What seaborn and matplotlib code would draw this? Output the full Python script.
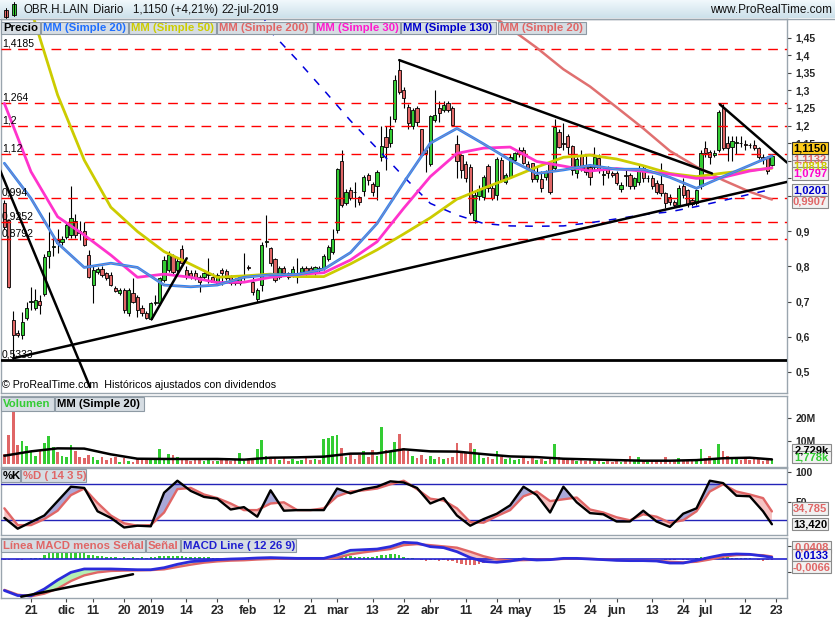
import numpy as np
import matplotlib
matplotlib.use("Agg")
import matplotlib.pyplot as plt
from matplotlib.patches import Rectangle
from matplotlib.colors import LinearSegmentedColormap
import seaborn as sns

sns.set_style("white")
plt.rcParams["font.family"] = ["Liberation Sans", "DejaVu Sans"]

W, H = 835, 620
GREEN = "#33cc33"
RED = "#e06666"
FRAME = "#9aa5ae"

# ---------------- data (bar 0 = 21-nov-2018, bar 167 = 22-jul-2019) ----------------
first_bar = -6

opens = [
    0.981, 0.932, 0.648, 0.612, 0.604, 0.652, 0.699, 0.681, 0.702, 0.721,
    0.830, 0.854, 0.875, 0.869, 0.884, 0.889, 0.929, 0.900, 0.901, 0.832,
    0.747, 0.785, 0.792, 0.780, 0.776, 0.740, 0.723, 0.733, 0.668, 0.725,
    0.714, 0.681, 0.667, 0.651, 0.695, 0.696, 0.762, 0.790, 0.830, 0.790,
    0.849, 0.790, 0.780, 0.780, 0.771, 0.769, 0.775, 0.771, 0.752, 0.790,
    0.788, 0.769, 0.763, 0.752, 0.770, 0.799, 0.757, 0.707, 0.747, 0.870,
    0.851, 0.820, 0.771, 0.795, 0.780, 0.776, 0.780, 0.785, 0.795, 0.795,
    0.780, 0.795, 0.795, 0.820, 0.842, 0.903, 1.098, 0.980, 1.017, 1.011,
    0.998, 1.015, 1.060, 1.034, 1.027, 1.112, 1.168, 1.151, 1.218, 1.358,
    1.301, 1.254, 1.200, 1.249, 1.189, 1.131, 1.091, 1.216, 1.249, 1.244,
    1.263, 1.249, 1.148, 1.116, 1.090, 1.083, 0.932, 1.000, 0.998, 1.086,
    1.022, 1.003, 1.102, 1.040, 1.055, 1.102, 1.120, 1.131, 1.090, 1.093,
    1.047, 1.047, 1.055, 1.093, 1.079, 1.183, 1.150, 1.169, 1.142, 1.064,
    1.116, 1.088, 1.083, 1.083, 1.107, 1.060, 1.079, 1.066, 1.064, 1.019,
    1.058, 1.060, 1.027, 1.040, 1.079, 1.050, 1.050, 1.038, 1.033, 1.008,
    0.998, 0.984, 0.974, 1.027, 1.017, 0.990, 0.979, 1.027, 1.135, 1.126,
    1.116, 1.131, 1.249, 1.150, 1.140, 1.151, 1.151, 1.147, 1.145, 1.145,
    1.135, 1.110, 1.112, 1.088,
]
highs = [
    0.990, 0.935, 0.672, 0.620, 0.670, 0.700, 0.742, 0.735, 0.720, 0.835,
    0.955, 0.885, 0.905, 0.885, 0.925, 1.029, 0.950, 0.929, 0.927, 0.847,
    0.800, 0.798, 0.800, 0.785, 0.785, 0.745, 0.738, 0.740, 0.738, 0.766,
    0.720, 0.690, 0.672, 0.700, 0.720, 0.770, 0.830, 0.845, 0.835, 0.825,
    0.860, 0.800, 0.790, 0.790, 0.775, 0.785, 0.823, 0.780, 0.780, 0.795,
    0.792, 0.775, 0.768, 0.775, 0.837, 0.805, 0.770, 0.740, 0.870, 0.946,
    0.855, 0.825, 0.800, 0.800, 0.785, 0.800, 0.823, 0.800, 0.800, 0.800,
    0.802, 0.800, 0.835, 0.860, 0.905, 1.080, 1.130, 1.020, 1.025, 1.040,
    1.000, 1.060, 1.065, 1.040, 1.075, 1.200, 1.200, 1.227, 1.345, 1.386,
    1.310, 1.260, 1.250, 1.255, 1.190, 1.135, 1.230, 1.300, 1.270, 1.270,
    1.270, 1.255, 1.173, 1.120, 1.100, 1.090, 1.010, 1.030, 1.060, 1.090,
    1.030, 1.110, 1.110, 1.065, 1.120, 1.125, 1.140, 1.140, 1.100, 1.095,
    1.083, 1.070, 1.075, 1.100, 1.218, 1.190, 1.206, 1.175, 1.145, 1.110,
    1.130, 1.120, 1.090, 1.140, 1.120, 1.080, 1.085, 1.070, 1.070, 1.040,
    1.074, 1.065, 1.055, 1.090, 1.085, 1.060, 1.060, 1.045, 1.093, 1.012,
    1.005, 0.990, 1.030, 1.050, 1.020, 0.995, 1.020, 1.130, 1.155, 1.130,
    1.130, 1.245, 1.260, 1.170, 1.170, 1.170, 1.170, 1.160, 1.150, 1.160,
    1.140, 1.120, 1.115, 1.120,
]
lows = [
    0.905, 0.738, 0.533, 0.598, 0.595, 0.648, 0.676, 0.675, 0.665, 0.715,
    0.795, 0.830, 0.838, 0.862, 0.878, 0.880, 0.880, 0.875, 0.858, 0.766,
    0.695, 0.778, 0.770, 0.760, 0.743, 0.727, 0.720, 0.668, 0.660, 0.695,
    0.655, 0.660, 0.650, 0.648, 0.690, 0.690, 0.755, 0.785, 0.775, 0.785,
    0.800, 0.765, 0.765, 0.760, 0.728, 0.765, 0.752, 0.755, 0.748, 0.747,
    0.760, 0.748, 0.748, 0.748, 0.760, 0.790, 0.720, 0.700, 0.730, 0.856,
    0.800, 0.755, 0.765, 0.775, 0.765, 0.770, 0.752, 0.780, 0.775, 0.780,
    0.775, 0.780, 0.790, 0.815, 0.835, 0.894, 0.970, 0.975, 0.990, 0.970,
    0.975, 1.000, 1.030, 1.000, 0.990, 1.100, 1.074, 1.140, 1.210, 1.290,
    1.250, 1.190, 1.190, 1.200, 1.110, 1.069, 1.085, 1.210, 1.210, 1.240,
    1.240, 1.200, 1.050, 1.050, 1.040, 0.945, 0.922, 0.990, 0.990, 1.010,
    0.990, 0.990, 1.040, 1.035, 1.050, 1.095, 1.110, 1.090, 1.075, 1.040,
    1.040, 1.010, 1.045, 1.005, 1.075, 1.135, 1.130, 1.120, 1.060, 1.050,
    1.070, 1.060, 1.030, 1.075, 1.065, 1.030, 1.050, 1.055, 1.030, 1.012,
    1.027, 1.020, 1.020, 1.030, 1.040, 1.040, 1.020, 1.005, 1.000, 0.965,
    0.975, 0.970, 0.970, 0.995, 0.970, 0.972, 0.975, 1.020, 1.110, 1.090,
    1.110, 1.125, 1.130, 1.100, 1.100, 1.120, 1.140, 1.130, 1.135, 1.130,
    1.105, 1.090, 1.062, 1.085,
]
closes = [
    0.913, 0.742, 0.605, 0.604, 0.642, 0.683, 0.701, 0.705, 0.689, 0.827,
    0.845, 0.857, 0.867, 0.878, 0.917, 0.938, 0.889, 0.895, 0.861, 0.769,
    0.790, 0.792, 0.776, 0.766, 0.747, 0.731, 0.733, 0.676, 0.733, 0.700,
    0.676, 0.667, 0.652, 0.695, 0.700, 0.766, 0.818, 0.832, 0.785, 0.815,
    0.810, 0.771, 0.769, 0.766, 0.757, 0.780, 0.778, 0.757, 0.776, 0.780,
    0.766, 0.752, 0.752, 0.771, 0.772, 0.794, 0.728, 0.733, 0.861, 0.871,
    0.809, 0.761, 0.795, 0.780, 0.771, 0.792, 0.781, 0.795, 0.780, 0.785,
    0.797, 0.793, 0.830, 0.856, 0.877, 1.076, 0.974, 1.012, 0.993, 1.010,
    0.984, 1.053, 1.045, 1.012, 1.069, 1.143, 1.140, 1.189, 1.330, 1.296,
    1.278, 1.206, 1.244, 1.211, 1.116, 1.121, 1.227, 1.230, 1.235, 1.258,
    1.244, 1.202, 1.098, 1.074, 1.050, 0.951, 1.003, 1.020, 1.053, 1.022,
    0.993, 1.104, 1.045, 1.060, 1.112, 1.121, 1.130, 1.093, 1.080, 1.047,
    1.060, 1.022, 1.069, 1.012, 1.197, 1.140, 1.148, 1.140, 1.074, 1.104,
    1.079, 1.069, 1.055, 1.112, 1.074, 1.061, 1.064, 1.060, 1.038, 1.031,
    1.057, 1.027, 1.050, 1.079, 1.050, 1.052, 1.027, 1.012, 1.008, 0.979,
    0.984, 0.974, 1.024, 1.003, 0.977, 0.977, 1.017, 1.123, 1.121, 1.112,
    1.121, 1.240, 1.135, 1.135, 1.157, 1.152, 1.150, 1.146, 1.144, 1.135,
    1.112, 1.105, 1.070, 1.115,
]
volume_m = [
    4.3, 12.6, 23.0, 8.3, 10.0, 7.8, 5.8, 3.5, 6.0, 9.0,
    12.2, 7.5, 5.4, 3.5, 3.2, 8.3, 5.8, 3.2, 2.5, 3.9,
    3.2, 1.8, 3.2, 1.8, 2.5, 3.2, 1.0, 2.5, 1.5, 1.0,
    2.5, 2.0, 1.7, 2.0, 2.2, 6.4, 2.5, 4.3, 3.8, 3.2,
    2.0, 2.0, 1.5, 1.6, 2.0, 1.2, 1.8, 1.5, 1.3, 2.2,
    1.6, 1.4, 1.8, 4.9, 1.5, 1.7, 2.7, 6.4, 10.4, 3.6,
    2.0, 3.0, 1.8, 2.5, 1.5, 2.2, 1.5, 1.8, 2.6, 1.6,
    2.0, 1.6, 11.0, 11.5, 12.2, 12.5, 7.0, 3.0, 4.0, 2.0,
    4.0, 5.5, 3.0, 6.0, 3.5, 16.0, 6.0, 5.8, 9.5, 13.0,
    7.0, 5.5, 3.5, 2.5, 4.0, 2.0, 3.5, 2.0, 3.0, 2.0,
    2.5, 3.0, 9.3, 5.0, 5.0, 9.3, 6.5, 5.0, 2.5, 3.0,
    2.0, 5.5, 3.0, 2.0, 2.5, 1.8, 2.2, 3.0, 1.5, 2.5,
    1.8, 2.0, 1.5, 2.5, 8.6, 3.0, 2.2, 2.5, 2.6, 1.5,
    2.0, 1.2, 2.0, 1.5, 1.8, 1.0, 1.3, 0.9, 1.2, 1.0,
    1.5, 3.5, 1.5, 3.0, 1.4, 1.0, 1.5, 1.1, 1.6, 3.0,
    1.5, 1.4, 2.5, 1.5, 1.8, 1.2, 1.5, 6.4, 2.5, 3.5,
    2.0, 8.8, 5.8, 3.5, 2.0, 2.5, 1.8, 2.0, 1.6, 2.4,
    2.2, 1.5, 2.0, 1.8,
]
macd_hist = [
    -0.008, -0.004, -0.002, -0.010, -0.008, 0.002, 0.005, 0.008, 0.010, 0.030,
    0.045, 0.050, 0.053, 0.053, 0.053, 0.053, 0.050, 0.048, 0.045, 0.035,
    0.030, 0.025, 0.021, 0.013, 0.012, 0.012, 0.011, 0.012, 0.011, 0.012,
    0.011, 0.012, 0.011, 0.013, 0.016, 0.021, 0.024, 0.026, 0.025, 0.022,
    0.020, 0.016, 0.015, 0.014, 0.013, 0.013, 0.012, 0.011, 0.010, 0.010,
    0.009, 0.009, 0.008, 0.008, 0.008, 0.007, 0.005, 0.004, 0.004, 0.003,
    0.003, 0.002, 0.002, 0.003, 0.002, 0.002, 0.001, 0.002, 0.002, 0.001,
    0.001, 0.002, 0.002, 0.003, 0.013, 0.024, 0.030, 0.026, 0.022, 0.018,
    0.016, 0.018, 0.016, 0.015, 0.020, 0.030, 0.035, 0.040, 0.038, 0.030,
    0.018, 0.010, 0.005, 0.003, -0.008, -0.012, -0.010, -0.009, -0.012, -0.010,
    -0.012, -0.018, -0.030, -0.038, -0.044, -0.048, -0.045, -0.040, -0.030, -0.022,
    -0.014, -0.006, -0.003, -0.002, 0.002, 0.003, 0.004, 0.003, 0.002, 0.001,
    0.000, -0.001, 0.001, 0.002, 0.003, 0.003, 0.002, 0.001, 0.001, 0.002,
    0.001, 0.000, -0.001, 0.000, -0.001, -0.002, -0.002, -0.001, -0.002, -0.003,
    -0.002, -0.002, -0.001, -0.001, -0.002, -0.002, -0.003, -0.002, -0.003, -0.004,
    -0.004, -0.005, -0.003, -0.004, -0.005, -0.003, 0.004, 0.012, 0.016, 0.018,
    0.019, 0.020, 0.018, 0.014, 0.010, 0.008, 0.007, 0.006, 0.005, 0.002,
    -0.010, -0.012, -0.009, -0.007,
]

# moving averages read every 6 bars
ma_idx = list(range(-6, 163, 6)) + [167]
sma20 = [1.093, 0.993, 0.866, 0.797, 0.809, 0.797, 0.747, 0.742, 0.747, 0.769,
         0.776, 0.777, 0.792, 0.839, 0.922, 1.038, 1.150, 1.192, 1.148, 1.102,
         1.064, 1.074, 1.087, 1.076, 1.076, 1.053, 1.022, 1.055, 1.087, 1.114]
sma30 = [1.263, 1.069, 0.941, 0.889, 0.832, 0.769, 0.778, 0.769, 0.754, 0.755,
         0.769, 0.777, 0.782, 0.818, 0.870, 0.965, 1.055, 1.121, 1.136, 1.139,
         1.098, 1.085, 1.071, 1.078, 1.070, 1.062, 1.050, 1.053, 1.071, 1.080]
sma50 = [1.720, 1.530, 1.287, 1.102, 0.968, 0.899, 0.842, 0.806, 0.769, 0.773,
         0.778, 0.771, 0.771, 0.807, 0.847, 0.892, 0.938, 0.991, 1.022, 1.051,
         1.082, 1.110, 1.116, 1.105, 1.086, 1.064, 1.055, 1.065, 1.073, 1.079]
vol_ma = [3.6, 5.5, 6.8, 6.7, 4.2, 2.3, 2.2, 2.2, 2.2, 1.9,
          2.75, 2.9, 3.2, 4.5, 4.6, 6.4, 5.5, 5.4, 4.3, 3.3,
          3.0, 2.3, 2.0, 1.7, 1.45, 1.45, 1.7, 2.5, 2.75, 2.0]
sma130_idx = list(range(48, 163, 6)) + [167]
sma130 = [1.620, 1.467, 1.386, 1.301, 1.214, 1.135, 1.055, 0.979, 0.946, 0.922,
          0.915, 0.914, 0.915, 0.924, 0.935, 0.947, 0.955, 0.970, 0.987, 1.005, 1.019]
sma200_idx = list(range(102, 163, 6)) + [167]
sma200 = [1.530, 1.476, 1.421, 1.360, 1.311, 1.252, 1.192, 1.128, 1.083, 1.045, 1.012, 0.990]

# oscillators read every 3 bars
osc_idx = list(range(-6, 166, 3)) + [167]
stoch_k = [24, 6, 17, 28, 52, 76, 74, 35, 24, 8, 11, 10, 66, 86, 69, 59, 56, 38, 42, 26,
           70, 36, 37, 37, 37, 73, 65, 72, 76, 85, 83, 74, 48, 57, 28, 11, 22, 31, 45, 76,
           62, 33, 76, 50, 32, 30, 18, 18, 36, 18, 9, 31, 40, 86, 82, 61, 60, 35, 13.4]
stoch_d = [40, 12, 12, 22, 36, 62, 73, 49, 28, 15, 11, 12, 33, 72, 74, 63, 57, 48, 37, 37,
           48, 50, 37, 37, 40, 60, 68, 70, 73, 80, 86, 72, 56, 53, 40, 17, 16, 27, 37, 60,
           68, 52, 55, 58, 38, 33, 25, 20, 30, 26, 16, 20, 35, 68, 80, 68, 63, 57, 34.8]
macd_line = [-0.250, -0.290, -0.292, -0.238, -0.167, -0.106, -0.079, -0.079, -0.079, -0.082,
             -0.085, -0.085, -0.069, -0.042, -0.021, -0.013, -0.005, 0.000, 0.003, 0.008,
             0.011, 0.008, 0.005, 0.005, 0.005, 0.032, 0.069, 0.074, 0.079, 0.098,
             0.132, 0.127, 0.098, 0.090, 0.058, 0.011, -0.019, -0.026, -0.016, 0.000,
             -0.008, -0.005, 0.005, 0.005, 0.000, -0.005, -0.011, -0.013, -0.013, -0.016,
             -0.032, -0.032, -0.011, 0.013, 0.034, 0.040, 0.037, 0.024, 0.013]
macd_signal = [-0.245, -0.283, -0.296, -0.275, -0.235, -0.175, -0.130, -0.106, -0.095, -0.092,
               -0.090, -0.088, -0.082, -0.063, -0.045, -0.029, -0.019, -0.013, -0.010, -0.004,
               0.000, 0.003, 0.003, 0.003, 0.003, 0.010, 0.037, 0.053, 0.066, 0.079,
               0.110, 0.118, 0.110, 0.100, 0.090, 0.058, 0.022, -0.003, -0.011, -0.009,
               -0.006, -0.004, 0.001, 0.003, 0.001, -0.003, -0.008, -0.011, -0.012, -0.014,
               -0.022, -0.027, -0.022, -0.004, 0.018, 0.031, 0.034, 0.030, 0.020]

# drawn levels and trend lines (bar, price)
levels = [1.4185, 1.264, 1.2, 1.12, 0.994, 0.9252, 0.8792]
level_text = ["1,4185", "1,264", "1,2", "1,12", "0,994", "0,9252", "0,8792"]
support_level = 0.5333
trend_lines = [
    ((-7.0, 1.074), (13.3, 0.457)),
    ((-4.0, 0.539), (170.4, 1.040)),
    ((27.2, 0.650), (35.1, 0.823)),
    ((83.0, 1.386), (153.5, 1.064)),
    ((155.3, 1.260), (170.4, 1.095)),
]
macd_trend = ((-2.2, -0.299), (23.0, -0.121))

xtick_pos = [0, 8, 14, 21, 27, 35, 42, 49, 56, 63, 69, 77, 84, 90, 98, 105, 110,
             119, 126, 132, 140, 147, 152, 161, 168]
xtick_text = ["21", "dic", "11", "20", "2019", "14", "23", "feb", "12", "21", "mar", "13",
              "22", "abr", "11", "24", "may", "15", "24", "jun", "13", "24", "jul", "12", "23"]

# ---------------- figure ----------------
X0, X1 = -6.76, 170.4


def px(x0, y0, x1, y1):
    return [x0 / W, 1 - y1 / H, (x1 - x0) / W, (y1 - y0) / H]


fig = plt.figure(figsize=(W / 100, H / 100), dpi=100)
fig.patch.set_facecolor("white")

ax_p = fig.add_axes(px(1, 19, 787, 393))
ax_v = fig.add_axes(px(1, 396, 787, 467))
ax_s = fig.add_axes(px(1, 468, 787, 535))
ax_m = fig.add_axes(px(1, 538, 787, 598))

bars = np.arange(first_bar, first_bar + len(opens))
o, h, l, c = (np.array(a) for a in (opens, highs, lows, closes))
up = c >= o
cols = np.where(up, GREEN, RED)

# price panel
for lv in levels:
    ax_p.axhline(lv, color="red", lw=1, ls=(0, (7, 5)), zorder=5)
ax_p.axhline(support_level, color="black", lw=2, zorder=5)
ax_p.vlines(bars, l, h, color="black", lw=0.8, zorder=3)
ax_p.bar(bars, np.maximum(np.abs(c - o), 0.0015), bottom=np.minimum(o, c), width=0.72,
         color=cols, edgecolor="black", linewidth=0.6, zorder=4)

sns.lineplot(x=sma130_idx, y=sma130, ax=ax_p, color="#0000dd", lw=1.1,
             linestyle=(0, (5, 6)), zorder=6)
sns.lineplot(x=sma200_idx, y=sma200, ax=ax_p, color="#e07070", lw=1.8, zorder=6)
sns.lineplot(x=ma_idx, y=sma50, ax=ax_p, color="#cccc00", lw=2.0, zorder=6)
sns.lineplot(x=ma_idx, y=sma30, ax=ax_p, color="#ff33cc", lw=2.0, zorder=6)
sns.lineplot(x=ma_idx, y=sma20, ax=ax_p, color="#2f86f2", lw=2.0, zorder=7)
sns.lineplot(x=ma_idx, y=sma20, ax=ax_p, color="#e08a8a", lw=0.4, alpha=0.8, zorder=7)
for (xa, ya), (xb, yb) in trend_lines:
    ax_p.plot([xa, xb], [ya, yb], color="black", lw=1.8, zorder=8)

# volume panel
ax_v.bar(bars, volume_m, width=0.6, color=cols, linewidth=0, zorder=3)
sns.lineplot(x=ma_idx, y=vol_ma, ax=ax_v, color="black", lw=1.8, zorder=4)

# stochastic panel
xi = np.array(osc_idx, dtype=float)
k = np.array(stoch_k, dtype=float)
d = np.array(stoch_d, dtype=float)
ax_s.fill_between(xi, k, d, where=k >= d, interpolate=True, color="#a9a9d9", lw=0, zorder=2)
ax_s.fill_between(xi, k, d, where=k < d, interpolate=True, color="#f6c3c3", lw=0, zorder=2)
ax_s.axhline(80, color="#2323b8", lw=1, zorder=3)
ax_s.axhline(20, color="#2323b8", lw=1, zorder=3)
sns.lineplot(x=xi, y=d, ax=ax_s, color=RED, lw=1.7, zorder=4)
sns.lineplot(x=xi, y=k, ax=ax_s, color="black", lw=1.7, zorder=5)

# macd panel
hist = np.array(macd_hist)
ax_m.bar(bars, hist, width=0.55, color=np.where(hist >= 0, GREEN, RED), linewidth=0, zorder=2)
mline = np.array(macd_line)
msig = np.array(macd_signal)
ax_m.fill_between(xi, mline, msig, where=mline >= msig, interpolate=True, color="#b4f0b4", lw=0, zorder=3)
ax_m.fill_between(xi, mline, msig, where=mline < msig, interpolate=True, color="#f6c0c0", lw=0, zorder=3)
ax_m.axhline(0, color="#2020d0", lw=1.2, zorder=4)
sns.lineplot(x=xi, y=msig, ax=ax_m, color=RED, lw=1.7, zorder=5)
sns.lineplot(x=xi, y=mline, ax=ax_m, color="#2b2bdb", lw=2.0, zorder=6)
(xa, ya), (xb, yb) = macd_trend
ax_m.plot([xa, xb], [ya, yb], color="black", lw=1.8, zorder=7)

# axes styling
limits = {ax_p: (0.4403, 1.5028), ax_v: (-1.3, 29.57), ax_s: (-4.5, 107.2), ax_m: (-0.3095, 0.1667)}
for a, yl in limits.items():
    a.set_xlim(X0, X1)
    a.set_ylim(*yl)
    a.set_xlabel("")
    a.set_ylabel("")
    a.set_facecolor("white")
    for s in a.spines.values():
        s.set_color(FRAME)
        s.set_linewidth(1)
    a.tick_params(axis="y", left=False, right=True, labelleft=False, labelright=True,
                  direction="out", length=3, width=0.8, pad=3, labelsize=7.5, color="#444444")
    a.tick_params(axis="x", bottom=False, top=False, labelbottom=False)

ax_p.set_yticks([0.5, 0.6, 0.7, 0.8, 0.9, 1.0, 1.05, 1.1, 1.15, 1.2, 1.25, 1.3, 1.35, 1.4, 1.45],
                ["0,5", "0,6", "0,7", "0,8", "0,9", "", "", "", "1,15", "1,2", "1,25", "1,3",
                 "1,35", "1,4", "1,45"])
ax_v.set_yticks([10, 20], ["10M", "20M"])
ax_s.set_yticks([50, 100], ["50", "100"])
ax_m.set_yticks([0.1, -0.1], ["", ""])
ax_m.set_xticks(xtick_pos, xtick_text)
ax_m.tick_params(axis="x", bottom=True, labelbottom=True, direction="out", length=3,
                 width=0.8, pad=2, labelsize=8.8, color="#444444")
for a in limits:
    for t in a.get_yticklabels() + a.get_xticklabels():
        t.set_fontweight("bold")

# ---------------- overlay: header, tags, value boxes ----------------
ax_o = fig.add_axes([0, 0, 1, 1], zorder=10)
ax_o.patch.set_alpha(0)
grad = np.linspace(0, 1, 20).reshape(-1, 1)
hdr = LinearSegmentedColormap.from_list("hdr", ["#f2f9fc", "#cde1eb"])
ax_o.imshow(grad, extent=(0, W, 18.5, 0), aspect="auto", cmap=hdr, zorder=0)
ax_o.set_xlim(0, W)
ax_o.set_ylim(H, 0)
ax_o.axis("off")
ax_o.plot([0, W], [18.5, 18.5], color=FRAME, lw=1)

# icon
ax_o.plot([5.8, 5.8], [8, 18], color="black", lw=0.7)
ax_o.add_patch(Rectangle((3.5, 10), 4.6, 6.5, facecolor=RED, edgecolor="black", lw=0.6))
ax_o.plot([13.8, 13.8], [1.5, 16], color="black", lw=0.7)
ax_o.add_patch(Rectangle((11.5, 4), 4.6, 10.5, facecolor=GREEN, edgecolor="black", lw=0.6))

for xt, txt in [(23, "OBR.H.LAIN"), (93, "Diario"), (133, "1,1150 (+4,21%)"), (221, "22-jul-2019")]:
    ax_o.text(xt, 10, txt, fontsize=8.3, va="center", ha="left", color="#111111")
ax_o.text(832, 10, "www.ProRealTime.com", fontsize=8.5, va="center", ha="right", color="#111111")


def tag(x0, x1, y0, y1, text, color, face="#d6dde3", edge="#8e9aa4", ha="left", size=8.2):
    ax_o.add_patch(Rectangle((x0, y0), x1 - x0, y1 - y0, facecolor=face, edgecolor=edge, lw=0.8))
    tx = x0 + 2 if ha == "left" else (x0 + x1) / 2
    ax_o.text(tx, (y0 + y1) / 2 + 0.5, text, color=color, ha=ha, va="center",
              fontsize=size, fontweight="bold")


price_tags = [("Precio", "black", 1, 40), ("MM (Simple 20)", "#1f6fff", 41, 128),
              ("MM (Simple 50)", "#cccc00", 129, 216), ("MM (Simple 200)", RED, 217, 313),
              ("MM (Simple 30)", "#ff1acd", 314, 400), ("MM (Simple 130)", "#0000cc", 401, 496),
              ("MM (Simple 20)", RED, 498, 586)]
for txt, col, xa, xb in price_tags:
    tag(xa, xb, 21.5, 33.5, txt, col)
tag(1, 54, 397, 410.5, "Volumen", GREEN)
tag(55, 144, 397, 410.5, "MM (Simple 20)", "black")
tag(1, 20, 469, 482, "%K", "black")
tag(21, 86, 469, 482, "%D ( 14 3 5)", RED)
tag(1, 145, 539, 552, "Línea MACD menos Señal", RED)
tag(146, 180, 539, 552, "Señal", RED)
tag(181, 296, 539, 552, "MACD Line ( 12 26 9)", "#2020d0")

# level labels
for lv, txt in zip(levels + [support_level], level_text + ["0,5333"]):
    ypix = 372 - (lv - 0.5) * 352
    ax_o.text(2, ypix - 5.5, txt, fontsize=7.5, ha="left", va="center", color="black")
ax_o.text(2, 385, "© ProRealTime.com  Históricos ajustados con dividendos",
          fontsize=7.7, ha="left", va="center", color="black")

# right value boxes (later ones cover earlier ones)
VF = "#f1f1f1"
VE = "#8a8a8a"
tag(792, 828, 153, 165, "1,1132", RED, VF, VE, "center", 8)
tag(792, 828, 160, 172, "1,0818", "#cccc00", VF, VE, "center", 8)
tag(792, 828, 166.5, 179.5, "1,0797", "#ff00cc", VF, VE, "center", 8)
tag(792, 828, 142, 154, "1,1150", "black", "#ffcc1a", "#333333", "center", 8)
tag(792, 828, 184, 196, "1,0201", "#0000cc", VF, VE, "center", 8)
tag(792, 828, 195.5, 207.5, "0,9907", RED, VF, VE, "center", 8)
tag(792, 831, 444, 456, "2,729k", "black", VF, VE, "center", 8)
tag(792, 831, 451, 463, "1,778k", GREEN, VF, VE, "center", 8)
tag(792, 828, 502, 514.5, "34,785", RED, VF, VE, "center", 8)
tag(792, 828, 517.5, 530, "13,420", "black", VF, VE, "center", 8)
tag(792, 831, 541, 553, "0,0408", RED, VF, VE, "center", 8)
tag(792, 831, 549, 561, "0,0133", "#0000cc", VF, VE, "center", 8)
tag(792, 831, 561, 573, "-0,0066", RED, VF, VE, "center", 8)

fig.savefig("out.png", dpi=100)
